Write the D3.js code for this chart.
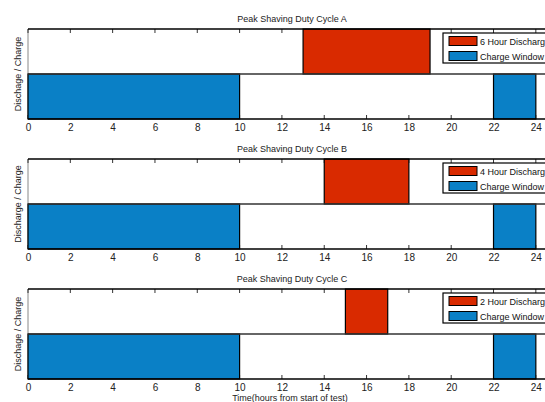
<!DOCTYPE html>
<html><head><meta charset="utf-8">
<script src="https://cdn.jsdelivr.net/npm/d3@7"></script>
<style>body{margin:0;background:#fff}svg{display:block}text{font-family:"Liberation Sans",Arial,sans-serif}</style>
</head><body>
<svg id="c" width="545" height="402"></svg>
<script>
const cycles = ["A", "B", "C"];
const yLabels = ["Dischage / Charge", "Discharge / Charge", "Dischage / Charge"];
const dischargeStart = [13, 14, 15];
const dischargeEnd = [19, 18, 17];
const dischargeLabels = ["6 Hour Discharge", "4 Hour Discharge", "2 Hour Discharge"];
const chargeWindows = [[0, 10], [22, 24]];
const chargeLabel = "Charge Window";
const xTicks = [0, 2, 4, 6, 8, 10, 12, 14, 16, 18, 20, 22, 24];
const xLim = [0, 25];
const yLim = [-1, 1];

const RED = "#D92A00", BLUE = "#0A80C6";
const svg = d3.select("#c");
const x = d3.scaleLinear().domain(xLim).range([28, 557]);
const tops = [29, 159, 289], H = 90;

cycles.forEach((c, i) => {
  const top = tops[i], bot = top + H;
  const y = d3.scaleLinear().domain(yLim).range([bot, top]);
  const g = svg.append("g");
  g.append("text").attr("x", 292).attr("y", top - 7).attr("text-anchor", "middle")
    .attr("font-size", 9).attr("fill", "#222").text("Peak Shaving Duty Cycle " + c);
  g.append("text").attr("transform", `translate(20.5,${y(0)}) rotate(-90)`).attr("text-anchor", "middle")
    .attr("font-size", 9).attr("fill", "#222").text(yLabels[i]);
  g.append("line").attr("x1", x(0)).attr("x2", x(0)).attr("y1", top).attr("y2", bot)
    .attr("stroke", "#888").attr("stroke-width", 1);
  const axB = d3.axisBottom(x).tickValues(xTicks).tickSize(0).tickPadding(5);
  const gb = g.append("g").attr("transform", `translate(0,${bot})`).call(axB);
  gb.select(".domain").remove();
  gb.selectAll("text").attr("font-size", 10).attr("fill", "#222").attr("font-family", '"Liberation Sans",Arial,sans-serif');
  xTicks.forEach(t => {
    g.append("line").attr("x1", x(t)).attr("x2", x(t)).attr("y1", bot).attr("y2", bot - 4).attr("stroke", "#333").attr("stroke-width", 1);
    g.append("line").attr("x1", x(t)).attr("x2", x(t)).attr("y1", top).attr("y2", top + 4).attr("stroke", "#333").attr("stroke-width", 1);
  });
  chargeWindows.forEach(w => {
    g.append("rect").attr("x", x(w[0])).attr("y", y(0)).attr("width", x(w[1]) - x(w[0])).attr("height", y(-1) - y(0))
      .attr("fill", BLUE).attr("stroke", "#000").attr("stroke-width", 1.2);
  });
  g.append("rect").attr("x", x(dischargeStart[i])).attr("y", y(1)).attr("width", x(dischargeEnd[i]) - x(dischargeStart[i]))
    .attr("height", y(0) - y(1)).attr("fill", RED).attr("stroke", "#000").attr("stroke-width", 1.2);
  g.append("line").attr("x1", x(0)).attr("x2", 545).attr("y1", y(0)).attr("y2", y(0))
    .attr("stroke", "#333").attr("stroke-width", 1.5);
  g.append("line").attr("x1", x(0)).attr("x2", 545).attr("y1", top).attr("y2", top).attr("stroke", "#000").attr("stroke-width", 1.5);
  g.append("line").attr("x1", x(0)).attr("x2", 545).attr("y1", bot).attr("y2", bot).attr("stroke", "#000").attr("stroke-width", 1.5);
  const lx = 443, ly = top + 4;
  g.append("rect").attr("x", lx).attr("y", ly).attr("width", 120).attr("height", 30)
    .attr("fill", "#fff").attr("stroke", "#000").attr("stroke-width", 1.2);
  [[RED, dischargeLabels[i]], [BLUE, chargeLabel]].forEach((e, k) => {
    const cy = ly + 8 + k * 15;
    g.append("rect").attr("x", lx + 6).attr("y", cy - 4.5).attr("width", 28).attr("height", 9)
      .attr("fill", e[0]).attr("stroke", "#000").attr("stroke-width", 1);
    g.append("text").attr("x", lx + 37).attr("y", cy + 3.5).attr("font-size", 9).attr("fill", "#111").text(e[1]);
  });
});
svg.append("text").attr("x", 290).attr("y", 401).attr("text-anchor", "middle")
  .attr("font-size", 9).attr("fill", "#222").text("Time(hours from start of test)");
</script>
</body></html>
